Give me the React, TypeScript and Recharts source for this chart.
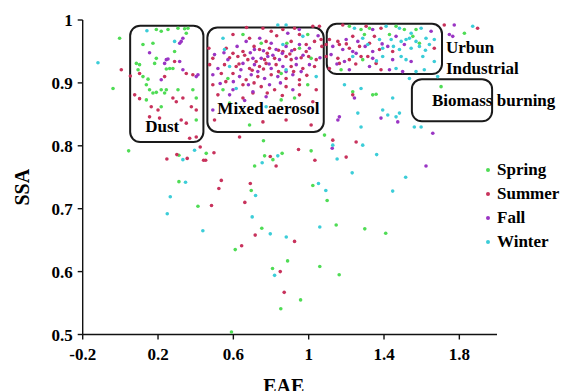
import React from 'react';
import { ScatterChart, Scatter, XAxis, YAxis, ReferenceArea, ReferenceDot } from 'recharts';

const FONT = "'Liberation Serif'";

const xTicks = [-0.2, 0.2, 0.6, 1, 1.4, 1.8];
const yTicks = [0.5, 0.6, 0.7, 0.8, 0.9, 1];

const seriesNames = ['Spring', 'Summer', 'Fall', 'Winter'];
const seriesColors = ['#4fdc55', '#c8325c', '#9a35c4', '#3ccdd8'];

const spring: [number, number][] = [
  [-0.004, 0.971], [-0.039, 0.891], [0.191, 0.985], [0.217, 0.982], [0.253, 0.985], [0.306, 0.987],
  [0.341, 0.986], [0.359, 0.987], [0.35, 0.979], [0.12, 0.961], [0.173, 0.963], [0.288, 0.95],
  [0.191, 0.939], [0.182, 0.931], [0.085, 0.931], [0.102, 0.929], [0.094, 0.921], [0.244, 0.922],
  [0.262, 0.923], [0.279, 0.923], [0.12, 0.91], [0.147, 0.906], [0.138, 0.897], [0.155, 0.889],
  [0.173, 0.884], [0.191, 0.885], [0.217, 0.889], [0.235, 0.884], [0.244, 0.889], [0.306, 0.889],
  [0.385, 0.889], [0.138, 0.873], [0.217, 0.862], [0.403, 0.876], [0.403, 0.841],
  [0.651, 0.977], [0.748, 0.963], [0.884, 0.963], [0.995, 0.977], [0.951, 0.955], [1.013, 0.939],
  [0.571, 0.907], [0.854, 0.915], [0.545, 0.889], [0.995, 0.897], [0.925, 0.876], [0.854, 0.873],
  [0.58, 0.868], [0.686, 0.833],
  [1.216, 0.99], [1.278, 0.985], [1.323, 0.987], [1.464, 0.99], [1.508, 0.985], [1.57, 0.985],
  [1.296, 0.977], [1.429, 0.977], [1.553, 0.974], [1.588, 0.963], [1.287, 0.937], [1.172, 0.921],
  [1.703, 0.894], [1.827, 0.979], [1.34, 0.881], [1.358, 0.882], [1.234, 0.886], [1.084, 0.817],
  [0.044, 0.792], [0.311, 0.785], [0.456, 0.788], [0.311, 0.743], [0.412, 0.704], [0.61, 0.635], [0.59, 0.504],
  [0.76, 0.808], [1.013, 0.792], [0.766, 0.784], [0.81, 0.778], [0.859, 0.788], [0.713, 0.768],
  [0.695, 0.729], [1.022, 0.737], [1.098, 0.713], [0.751, 0.669], [1.146, 0.674], [1.298, 0.668],
  [1.409, 0.661], [0.888, 0.617], [0.808, 0.605], [1.059, 0.608], [1.162, 0.595], [0.957, 0.555], [0.852, 0.541],
];

const summer: [number, number][] = [
  [0.005, 0.921], [0.053, 0.911], [0.102, 0.915], [0.235, 0.91], [0.288, 0.934], [0.35, 0.915],
  [0.385, 0.913], [0.076, 0.881], [0.102, 0.875], [0.164, 0.862], [0.2, 0.857], [0.279, 0.876],
  [0.297, 0.87], [0.332, 0.876], [0.377, 0.862], [0.403, 0.857], [0.155, 0.846], [0.208, 0.844],
  [0.323, 0.841], [0.35, 0.836], [0.368, 0.812], [0.403, 0.814],
  [0.757, 0.987], [0.598, 0.977], [0.801, 0.982], [0.863, 0.985], [0.925, 0.987], [0.951, 0.977],
  [1.022, 0.99], [1.057, 0.99], [0.686, 0.971], [0.774, 0.966], [0.907, 0.966], [0.987, 0.961],
  [1.031, 0.966], [1.066, 0.969], [0.562, 0.955], [0.598, 0.947], [0.651, 0.95], [0.739, 0.953],
  [0.792, 0.955], [0.863, 0.95], [0.925, 0.953], [0.987, 0.95], [0.491, 0.939], [0.624, 0.942],
  [0.677, 0.937], [0.721, 0.934], [0.766, 0.937], [0.819, 0.939], [0.88, 0.942], [0.907, 0.937],
  [1.04, 0.937], [0.474, 0.929], [0.553, 0.929], [0.615, 0.926], [0.686, 0.923], [0.739, 0.926],
  [0.774, 0.931], [0.827, 0.929], [0.907, 0.926], [0.969, 0.923], [1.031, 0.926], [0.536, 0.915],
  [0.598, 0.915], [0.668, 0.905], [0.73, 0.91], [0.801, 0.913], [0.88, 0.907], [0.951, 0.905],
  [0.491, 0.897], [0.651, 0.897], [0.748, 0.894], [0.819, 0.889], [0.88, 0.894], [0.951, 0.897],
  [1.04, 0.889], [0.518, 0.881], [0.651, 0.876], [0.704, 0.884], [0.951, 0.881], [1.022, 0.87],
  [0.5, 0.841], [0.757, 0.838], [0.88, 0.841], [1.013, 0.833], [0.633, 0.814], [1.199, 0.782],
  [0.58, 0.94], [0.66, 0.944], [0.71, 0.958], [0.78, 0.947], [0.84, 0.952], [0.9, 0.946],
  [0.96, 0.94], [1.0, 0.942], [0.63, 0.93], [0.7, 0.92], [0.76, 0.922], [0.84, 0.918],
  [0.92, 0.918], [0.99, 0.912], [0.56, 0.902], [0.71, 0.9], [0.78, 0.884], [0.86, 0.88],
  [0.67, 0.988], [0.83, 0.975], [1.07, 0.958], [0.47, 0.955],
  [1.181, 0.992], [1.305, 0.99], [1.384, 0.987], [1.72, 0.992], [1.897, 0.987], [1.11, 0.969],
  [1.155, 0.966], [1.234, 0.974], [1.323, 0.963], [1.349, 0.974], [1.093, 0.961], [1.163, 0.961],
  [1.216, 0.955], [1.27, 0.958], [1.376, 0.953], [1.446, 0.95], [1.667, 0.955], [1.093, 0.942],
  [1.155, 0.939], [1.216, 0.937], [1.278, 0.942], [1.314, 0.942], [1.358, 0.931], [1.163, 0.931],
  [1.11, 0.923], [1.384, 0.921], [1.234, 0.881], [1.25, 0.93], [1.2, 0.962],
  [0.247, 0.779], [0.3, 0.786], [0.355, 0.78], [0.424, 0.798], [0.442, 0.777], [0.453, 0.777],
  [0.497, 0.789], [0.484, 0.705], [0.536, 0.745], [0.523, 0.732], [0.661, 0.71], [0.644, 0.641],
  [1.128, 0.809], [1.252, 0.806], [0.946, 0.794], [0.796, 0.783], [0.827, 0.768], [1.033, 0.777],
  [0.69, 0.74], [0.716, 0.658], [0.925, 0.648], [0.849, 0.6], [0.87, 0.567],
];

const fall: [number, number][] = [
  [0.315, 0.963], [0.323, 0.966], [0.332, 0.971], [0.155, 0.948], [0.244, 0.937], [0.253, 0.938],
  [0.235, 0.931], [0.315, 0.934], [0.332, 0.921], [0.217, 0.905], [0.403, 0.91], [0.412, 0.913],
  [0.889, 0.979], [0.668, 0.966], [0.801, 0.963], [0.951, 0.961], [0.5, 0.945], [0.712, 0.953],
  [0.827, 0.953], [0.88, 0.958], [1.004, 0.955], [0.571, 0.937], [0.704, 0.939], [0.748, 0.939],
  [0.783, 0.942], [0.845, 0.937], [0.934, 0.939], [0.518, 0.923], [0.651, 0.931], [0.712, 0.929],
  [0.801, 0.923], [0.863, 0.926], [0.934, 0.929], [1.004, 0.929], [0.491, 0.913], [0.633, 0.91],
  [0.695, 0.913], [0.766, 0.907], [0.836, 0.91], [0.916, 0.913], [0.598, 0.889], [0.704, 0.886],
  [0.792, 0.897], [0.916, 0.889], [0.58, 0.881], [0.774, 0.878], [0.491, 0.857],
  [0.62, 0.958], [0.69, 0.948], [0.76, 0.951], [0.81, 0.944], [0.86, 0.947], [0.91, 0.951],
  [0.97, 0.944], [0.55, 0.948], [0.64, 0.921], [0.73, 0.918], [0.79, 0.93], [0.88, 0.918],
  [0.96, 0.918], [0.6, 0.902], [0.68, 0.897], [0.85, 0.9], [1.06, 0.94], [0.74, 0.971],
  [0.95, 0.985], [1.05, 0.975], [0.53, 0.899], [0.66, 0.872],
  [1.773, 0.992], [1.747, 0.977], [1.765, 0.974], [1.34, 0.985], [1.65, 0.982], [1.199, 0.969],
  [1.261, 0.966], [1.464, 0.974], [1.128, 0.958], [1.181, 0.953], [1.234, 0.95], [1.34, 0.95],
  [1.42, 0.958], [1.508, 0.961], [1.119, 0.945], [1.19, 0.934], [1.252, 0.947], [1.34, 0.939],
  [1.446, 0.937], [1.544, 0.934], [1.216, 0.921], [1.323, 0.926], [1.429, 0.921], [1.499, 0.918],
  [1.3, 0.958], [1.39, 0.962], [1.15, 0.93],
  [1.243, 0.876], [1.384, 0.844], [1.473, 0.838], [1.163, 0.846], [1.155, 0.841], [1.659, 0.82],
  [1.125, 0.796], [1.623, 0.768],
];

const winter: [number, number][] = [
  [-0.119, 0.932], [0.141, 0.983], [0.288, 0.966],
  [0.836, 0.992], [0.88, 0.992], [0.545, 0.971], [0.969, 0.974], [0.863, 0.961], [0.553, 0.953],
  [0.58, 0.926], [0.88, 0.921], [1.04, 0.91], [0.615, 0.891], [0.774, 0.862],
  [1.871, 0.99], [1.243, 0.987], [1.411, 0.99], [1.482, 0.987], [1.597, 0.987], [1.544, 0.979],
  [1.287, 0.971], [1.376, 0.969], [1.438, 0.969], [1.491, 0.966], [1.517, 0.969], [1.535, 0.971],
  [1.57, 0.966], [1.623, 0.971], [1.667, 0.969], [1.314, 0.961], [1.393, 0.955], [1.482, 0.953],
  [1.544, 0.955], [1.588, 0.958], [1.641, 0.961], [1.234, 0.942], [1.393, 0.942], [1.491, 0.942],
  [1.517, 0.937], [1.606, 0.942], [1.667, 0.934], [1.464, 0.923], [1.57, 0.918], [1.614, 0.921],
  [1.36, 0.935], [1.62, 0.952], [1.45, 0.958],
  [1.685, 0.91], [1.535, 0.907], [1.19, 0.897], [1.278, 0.891], [1.446, 0.876], [1.261, 0.852],
  [1.393, 0.857], [1.42, 0.849], [1.482, 0.852], [1.464, 0.846], [1.561, 0.83], [1.597, 0.83], [1.278, 0.83],
  [0.332, 0.778], [0.394, 0.793], [0.346, 0.742], [0.265, 0.719], [0.249, 0.692], [0.438, 0.665],
  [1.128, 0.801], [1.287, 0.801], [0.836, 0.784], [0.753, 0.773], [1.151, 0.779], [1.361, 0.786],
  [1.231, 0.757], [1.515, 0.75], [0.718, 0.721], [1.052, 0.74], [1.091, 0.729], [1.446, 0.728],
  [0.7, 0.687], [0.796, 0.66], [0.881, 0.655], [1.059, 0.671], [0.819, 0.594],
];

const seriesData = [spring, summer, fall, winter];

// annotation boxes: [x1, x2, yBottom, yTop]
const boxes: [number, number, number, number][] = [
  [0.052, 0.441, 0.806, 0.991],
  [0.462, 1.08, 0.822, 0.988],
  [1.096, 1.708, 0.914, 0.994],
  [1.548, 1.974, 0.839, 0.906],
];

// annotation texts: [label, x, y(baseline)]
const notes: [string, number, number][] = [
  ['Dust', 0.132, 0.822],
  ['Mixed aerosol', 0.515, 0.851],
  ['Urbun', 1.729, 0.948],
  ['Industrial', 1.729, 0.914],
  ['Biomass burning', 1.655, 0.864],
];

const toPoints = (arr: [number, number][]) => arr.map(([x, y]) => ({ x, y }));

const dotShape = (color: string) => (p: any) => (
  <circle cx={p.cx} cy={p.cy} r={1.8} fill={color} />
);

const LegendBox = () => (
  <div style={{ position: 'absolute', left: 486, top: 158, fontFamily: FONT, fontWeight: 'bold', fontSize: 17, color: '#000', lineHeight: '24px' }}>
    {seriesNames.map((n, i) => (
      <div key={n} style={{ display: 'flex', alignItems: 'center', height: 24 }}>
        <span style={{ width: 4, height: 4, borderRadius: 2, background: seriesColors[i], marginRight: 7 }} />
        <span>{n}</span>
      </div>
    ))}
  </div>
);

export default function App() {
  const tickStyle = { fill: '#000', fontSize: 17, fontWeight: 'bold', fontFamily: FONT };
  return (
    <div style={{ position: 'absolute', left: 0, top: 0, width: 562, height: 391, background: '#fff' }}>
      <ScatterChart width={562} height={391} margin={{ top: 20, right: 65, left: 0, bottom: 0 }}>
        <XAxis
          type="number"
          dataKey="x"
          domain={[-0.2, 2.0]}
          ticks={xTicks}
          tick={tickStyle}
          tickSize={5}
          tickMargin={8}
          height={56.5}
          axisLine={{ stroke: '#111', strokeWidth: 1.4 }}
          tickLine={{ stroke: '#111', strokeWidth: 1.4 }}
          allowDataOverflow
          label={{
            content: (props: any) => {
              const vb = props.viewBox;
              return (
                <text x={vb.x + vb.width / 2 - 6} y={vb.y + 58} textAnchor="middle" fontFamily={FONT} fontWeight="bold" fontSize={20} fill="#000">
                  EAE
                </text>
              );
            },
          }}
        />
        <YAxis
          type="number"
          dataKey="y"
          domain={[0.5, 1]}
          ticks={yTicks}
          tick={tickStyle}
          tickSize={5}
          tickMargin={5}
          width={82.7}
          axisLine={{ stroke: '#111', strokeWidth: 1.4 }}
          tickLine={{ stroke: '#111', strokeWidth: 1.4 }}
          allowDataOverflow
          label={{
            content: (props: any) => {
              const vb = props.viewBox;
              const cx = vb.x + 22;
              const cy = vb.y + vb.height / 2 + 10;
              return (
                <text x={cx} y={cy} transform={`rotate(-90 ${cx} ${cy})`} textAnchor="middle" dominantBaseline="central" fontFamily={FONT} fontWeight="bold" fontSize={20} fill="#000">
                  SSA
                </text>
              );
            },
          }}
        />
        {seriesData.map((d, i) => (
          <Scatter
            key={seriesNames[i]}
            name={seriesNames[i]}
            data={toPoints(d)}
            fill={seriesColors[i]}
            shape={dotShape(seriesColors[i])}
            isAnimationActive={false}
          />
        ))}
        {boxes.map(([x1, x2, y1, y2], i) => (
          <ReferenceArea
            key={'b' + i}
            x1={x1}
            x2={x2}
            y1={y1}
            y2={y2}
            ifOverflow="visible"
            shape={(p: any) => (
              <rect x={p.x} y={p.y} width={p.width} height={p.height} rx={10} ry={10} fill="none" stroke="#1a1a1a" strokeWidth={2} />
            )}
          />
        ))}
        {notes.map(([t, x, y]) => (
          <ReferenceDot
            key={t}
            x={x}
            y={y}
            r={0}
            fill="none"
            stroke="none"
            ifOverflow="visible"
            label={{
              content: (props: any) => {
                const vb = props.viewBox;
                return (
                  <text x={vb.x} y={vb.y} fontFamily={FONT} fontWeight="bold" fontSize={17} fill="#000">
                    {t}
                  </text>
                );
              },
            }}
          />
        ))}
      </ScatterChart>
      <LegendBox />
    </div>
  );
}
